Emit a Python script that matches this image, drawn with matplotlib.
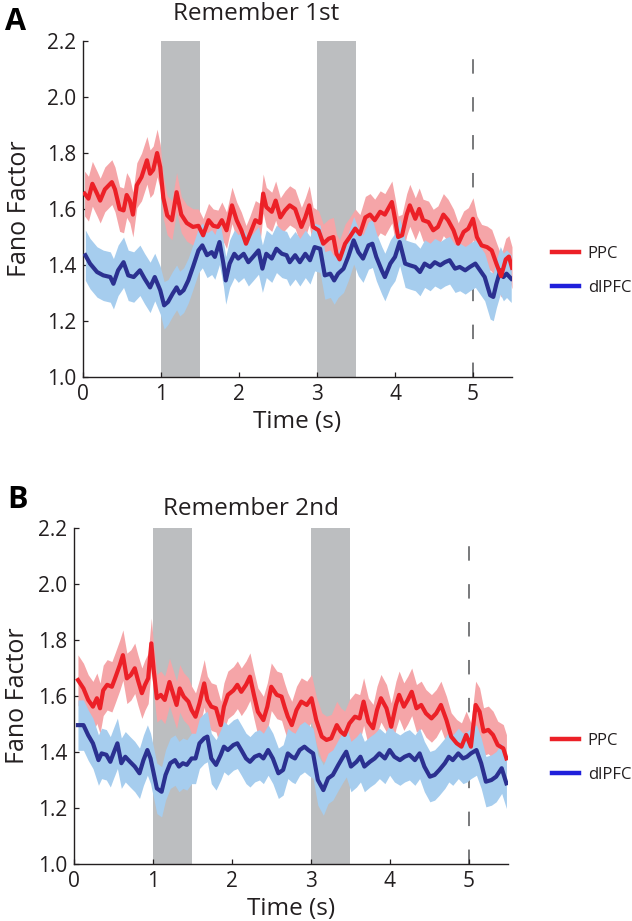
import numpy as np
import matplotlib
matplotlib.use("Agg")
import matplotlib.pyplot as plt
from matplotlib.lines import Line2D

plt.rcParams['font.family'] = ['Open Sans', 'DejaVu Sans']

# cue windows (s) and the end-of-trial marker
CUE_WINDOWS = [(1.0, 1.5), (3.0, 3.5)]
DELAY_END = 5.0

# ---- Panel A: Remember 1st ----
a_ppc_t = [0.02, 0.07, 0.12, 0.18, 0.22, 0.28, 0.37, 0.41, 0.47, 0.52,
           0.56, 0.60, 0.64, 0.69, 0.75, 0.82, 0.86, 0.90, 0.95, 0.99,
           1.03, 1.08, 1.14, 1.20, 1.26, 1.33, 1.41, 1.48, 1.54, 1.61,
           1.67, 1.73, 1.78, 1.84, 1.91, 1.97, 2.03, 2.09, 2.14, 2.21,
           2.27, 2.31, 2.35, 2.42, 2.47, 2.53, 2.59, 2.65, 2.72, 2.80,
           2.85, 2.90, 2.95, 3.02, 3.08, 3.15, 3.21, 3.25, 3.29, 3.36,
           3.42, 3.49, 3.55, 3.62, 3.68, 3.74, 3.81, 3.87, 3.96, 4.00,
           4.04, 4.09, 4.15, 4.19, 4.26, 4.31, 4.36, 4.43, 4.49, 4.55,
           4.62, 4.68, 4.75, 4.81, 4.88, 4.94, 5.00, 5.05, 5.11, 5.18,
           5.24, 5.30, 5.36, 5.42, 5.46, 5.50]
a_ppc = [1.655, 1.637, 1.690, 1.655, 1.630, 1.670, 1.696, 1.670, 1.600, 1.595,
         1.650, 1.630, 1.580, 1.685, 1.714, 1.774, 1.726, 1.740, 1.800, 1.750,
         1.640, 1.577, 1.560, 1.660, 1.580, 1.550, 1.536, 1.540, 1.506, 1.560,
         1.540, 1.536, 1.560, 1.524, 1.613, 1.560, 1.524, 1.476, 1.510, 1.560,
         1.550, 1.655, 1.607, 1.590, 1.630, 1.570, 1.595, 1.613, 1.600, 1.536,
         1.570, 1.613, 1.536, 1.524, 1.476, 1.494, 1.500, 1.440, 1.420, 1.476,
         1.500, 1.530, 1.510, 1.570, 1.580, 1.560, 1.590, 1.580, 1.625, 1.565,
         1.500, 1.506, 1.580, 1.613, 1.565, 1.600, 1.560, 1.553, 1.524, 1.536,
         1.580, 1.560, 1.524, 1.476, 1.518, 1.530, 1.565, 1.500, 1.470, 1.464,
         1.452, 1.405, 1.360, 1.420, 1.430, 1.390]
a_ppc_sem = [0.08, 0.08, 0.08, 0.08, 0.08, 0.08, 0.08, 0.08, 0.08, 0.08,
             0.08, 0.08, 0.08, 0.08, 0.085, 0.085, 0.085, 0.085, 0.085, 0.08,
             0.075, 0.07, 0.07, 0.07, 0.065, 0.065, 0.065, 0.06, 0.06, 0.06,
             0.06, 0.06, 0.065, 0.065, 0.065, 0.065, 0.065, 0.065, 0.065, 0.07,
             0.07, 0.07, 0.07, 0.07, 0.07, 0.07, 0.07, 0.07, 0.07, 0.07,
             0.07, 0.07, 0.07, 0.07, 0.07, 0.07, 0.07, 0.07, 0.07, 0.07,
             0.07, 0.07, 0.07, 0.075, 0.075, 0.075, 0.075, 0.075, 0.075, 0.075,
             0.075, 0.075, 0.075, 0.075, 0.075, 0.075, 0.075, 0.075, 0.075, 0.075,
             0.075, 0.075, 0.075, 0.075, 0.075, 0.075, 0.075, 0.075, 0.075, 0.075,
             0.075, 0.075, 0.075, 0.075, 0.075, 0.075]

a_pfc_t = [0.03, 0.09, 0.18, 0.26, 0.35, 0.39, 0.45, 0.52, 0.58, 0.65,
           0.73, 0.79, 0.86, 0.92, 0.99, 1.04, 1.09, 1.15, 1.20, 1.24,
           1.29, 1.35, 1.41, 1.48, 1.53, 1.59, 1.65, 1.69, 1.75, 1.80,
           1.83, 1.88, 1.94, 1.99, 2.06, 2.12, 2.18, 2.25, 2.30, 2.35,
           2.42, 2.48, 2.55, 2.61, 2.65, 2.72, 2.78, 2.85, 2.91, 2.97,
           3.04, 3.10, 3.17, 3.22, 3.27, 3.34, 3.40, 3.47, 3.53, 3.59,
           3.66, 3.71, 3.76, 3.83, 3.87, 3.94, 4.00, 4.06, 4.13, 4.19,
           4.26, 4.32, 4.38, 4.45, 4.51, 4.58, 4.64, 4.70, 4.77, 4.83,
           4.90, 4.96, 5.03, 5.09, 5.15, 5.22, 5.26, 5.30, 5.35, 5.39,
           5.43, 5.49]
a_pfc = [1.435, 1.405, 1.375, 1.363, 1.357, 1.333, 1.381, 1.410, 1.363, 1.357,
         1.381, 1.351, 1.320, 1.357, 1.310, 1.256, 1.268, 1.298, 1.320, 1.298,
         1.310, 1.345, 1.393, 1.452, 1.470, 1.435, 1.446, 1.429, 1.482, 1.405,
         1.345, 1.405, 1.440, 1.423, 1.440, 1.410, 1.429, 1.452, 1.387, 1.440,
         1.423, 1.458, 1.440, 1.435, 1.410, 1.435, 1.410, 1.440, 1.417, 1.464,
         1.458, 1.363, 1.369, 1.345, 1.369, 1.387, 1.429, 1.488, 1.446, 1.423,
         1.470, 1.476, 1.429, 1.381, 1.357, 1.405, 1.429, 1.482, 1.405, 1.399,
         1.393, 1.375, 1.405, 1.393, 1.410, 1.399, 1.410, 1.417, 1.387, 1.393,
         1.381, 1.393, 1.405, 1.381, 1.357, 1.292, 1.286, 1.333, 1.381, 1.357,
         1.369, 1.351]
a_pfc_sem = [0.09, 0.09, 0.09, 0.09, 0.09, 0.09, 0.09, 0.09, 0.09, 0.09,
             0.09, 0.09, 0.09, 0.085, 0.085, 0.085, 0.08, 0.08, 0.08, 0.08,
             0.08, 0.08, 0.08, 0.08, 0.08, 0.08, 0.08, 0.08, 0.08, 0.08,
             0.085, 0.085, 0.085, 0.085, 0.085, 0.085, 0.085, 0.085, 0.085, 0.085,
             0.085, 0.085, 0.085, 0.085, 0.085, 0.085, 0.085, 0.085, 0.085, 0.085,
             0.085, 0.085, 0.085, 0.085, 0.085, 0.085, 0.085, 0.085, 0.085, 0.085,
             0.085, 0.085, 0.085, 0.085, 0.085, 0.085, 0.085, 0.085, 0.085, 0.085,
             0.085, 0.085, 0.085, 0.085, 0.085, 0.085, 0.085, 0.085, 0.085, 0.085,
             0.085, 0.085, 0.085, 0.085, 0.085, 0.085, 0.085, 0.085, 0.085, 0.085,
             0.085, 0.085]

# ---- Panel B: Remember 2nd ----
b_ppc_t = [0.05, 0.12, 0.18, 0.24, 0.29, 0.33, 0.37, 0.42, 0.48, 0.52,
           0.58, 0.62, 0.67, 0.72, 0.77, 0.81, 0.86, 0.90, 0.94, 0.98,
           1.01, 1.05, 1.10, 1.15, 1.21, 1.26, 1.30, 1.34, 1.39, 1.45,
           1.49, 1.54, 1.59, 1.65, 1.69, 1.74, 1.80, 1.86, 1.90, 1.95,
           2.02, 2.07, 2.12, 2.18, 2.23, 2.28, 2.33, 2.40, 2.45, 2.50,
           2.57, 2.63, 2.67, 2.71, 2.76, 2.82, 2.88, 2.95, 3.01, 3.07,
           3.14, 3.20, 3.26, 3.33, 3.38, 3.43, 3.49, 3.56, 3.62, 3.67,
           3.73, 3.79, 3.84, 3.89, 3.96, 4.02, 4.08, 4.12, 4.18, 4.23,
           4.28, 4.34, 4.40, 4.46, 4.53, 4.59, 4.65, 4.72, 4.78, 4.85,
           4.91, 4.97, 5.03, 5.09, 5.14, 5.19, 5.25, 5.31, 5.37, 5.44,
           5.48]
b_ppc = [1.657, 1.627, 1.586, 1.562, 1.592, 1.556, 1.620, 1.640, 1.633, 1.663,
         1.710, 1.746, 1.663, 1.675, 1.699, 1.657, 1.610, 1.640, 1.663, 1.788,
         1.693, 1.592, 1.604, 1.586, 1.650, 1.604, 1.568, 1.627, 1.598, 1.580,
         1.550, 1.526, 1.574, 1.645, 1.586, 1.562, 1.556, 1.496, 1.562, 1.604,
         1.620, 1.640, 1.615, 1.640, 1.669, 1.604, 1.544, 1.514, 1.562, 1.633,
         1.604, 1.598, 1.560, 1.526, 1.496, 1.550, 1.580, 1.568, 1.592, 1.514,
         1.455, 1.443, 1.449, 1.496, 1.473, 1.461, 1.502, 1.526, 1.520, 1.580,
         1.508, 1.485, 1.550, 1.592, 1.556, 1.490, 1.568, 1.604, 1.562, 1.586,
         1.615, 1.556, 1.568, 1.538, 1.520, 1.538, 1.568, 1.514, 1.455, 1.431,
         1.419, 1.461, 1.419, 1.568, 1.544, 1.473, 1.479, 1.461, 1.425, 1.413,
         1.377]
b_ppc_sem = [0.09, 0.09, 0.09, 0.09, 0.09, 0.09, 0.09, 0.09, 0.09, 0.09,
             0.09, 0.09, 0.09, 0.09, 0.09, 0.09, 0.09, 0.09, 0.09, 0.09,
             0.085, 0.085, 0.085, 0.085, 0.085, 0.085, 0.085, 0.085, 0.085, 0.085,
             0.085, 0.085, 0.085, 0.085, 0.085, 0.085, 0.085, 0.085, 0.085, 0.085,
             0.085, 0.085, 0.085, 0.085, 0.085, 0.085, 0.085, 0.085, 0.085, 0.085,
             0.085, 0.085, 0.085, 0.085, 0.085, 0.085, 0.085, 0.085, 0.085, 0.085,
             0.085, 0.085, 0.085, 0.085, 0.085, 0.085, 0.085, 0.085, 0.085, 0.085,
             0.085, 0.085, 0.085, 0.085, 0.085, 0.085, 0.085, 0.085, 0.085, 0.085,
             0.085, 0.085, 0.085, 0.085, 0.085, 0.085, 0.085, 0.085, 0.085, 0.085,
             0.085, 0.085, 0.085, 0.085, 0.085, 0.085, 0.085, 0.085, 0.085, 0.085,
             0.085]

b_pfc_t = [0.05, 0.12, 0.18, 0.24, 0.31, 0.35, 0.41, 0.46, 0.50, 0.55,
           0.60, 0.65, 0.71, 0.77, 0.83, 0.88, 0.93, 0.97, 1.01, 1.05,
           1.11, 1.16, 1.22, 1.28, 1.33, 1.38, 1.43, 1.49, 1.54, 1.59,
           1.65, 1.69, 1.74, 1.80, 1.86, 1.90, 1.95, 2.02, 2.07, 2.12,
           2.18, 2.23, 2.29, 2.35, 2.40, 2.46, 2.52, 2.59, 2.65, 2.71,
           2.76, 2.80, 2.86, 2.92, 2.97, 3.03, 3.09, 3.16, 3.22, 3.28,
           3.35, 3.41, 3.45, 3.51, 3.58, 3.63, 3.68, 3.75, 3.81, 3.87,
           3.94, 4.00, 4.06, 4.13, 4.19, 4.25, 4.32, 4.38, 4.44, 4.51,
           4.57, 4.63, 4.70, 4.75, 4.80, 4.87, 4.93, 4.98, 5.03, 5.10,
           5.16, 5.22, 5.29, 5.35, 5.42, 5.48]
b_pfc = [1.496, 1.496, 1.460, 1.431, 1.371, 1.395, 1.390, 1.365, 1.395, 1.431,
         1.360, 1.383, 1.365, 1.348, 1.324, 1.371, 1.407, 1.377, 1.324, 1.270,
         1.258, 1.318, 1.360, 1.371, 1.348, 1.360, 1.354, 1.377, 1.377, 1.431,
         1.449, 1.455, 1.377, 1.354, 1.390, 1.419, 1.407, 1.425, 1.431, 1.407,
         1.377, 1.365, 1.383, 1.390, 1.377, 1.407, 1.377, 1.324, 1.336, 1.395,
         1.383, 1.377, 1.407, 1.419, 1.407, 1.395, 1.300, 1.264, 1.306, 1.318,
         1.354, 1.383, 1.401, 1.348, 1.365, 1.383, 1.348, 1.365, 1.377, 1.395,
         1.377, 1.407, 1.383, 1.371, 1.383, 1.390, 1.371, 1.395, 1.348, 1.312,
         1.318, 1.336, 1.360, 1.383, 1.371, 1.395, 1.377, 1.383, 1.395, 1.407,
         1.360, 1.294, 1.300, 1.312, 1.342, 1.288]
b_pfc_sem = [0.09, 0.09, 0.09, 0.09, 0.09, 0.09, 0.09, 0.09, 0.09, 0.09,
             0.09, 0.09, 0.09, 0.09, 0.09, 0.09, 0.09, 0.09, 0.09, 0.09,
             0.09, 0.09, 0.09, 0.09, 0.09, 0.09, 0.09, 0.09, 0.09, 0.09,
             0.09, 0.09, 0.09, 0.09, 0.09, 0.09, 0.09, 0.09, 0.09, 0.09,
             0.09, 0.09, 0.09, 0.09, 0.09, 0.09, 0.09, 0.09, 0.09, 0.09,
             0.09, 0.09, 0.09, 0.09, 0.09, 0.09, 0.09, 0.09, 0.09, 0.09,
             0.09, 0.09, 0.09, 0.09, 0.09, 0.09, 0.09, 0.09, 0.09, 0.09,
             0.09, 0.09, 0.09, 0.09, 0.09, 0.09, 0.09, 0.09, 0.09, 0.09,
             0.09, 0.09, 0.09, 0.09, 0.09, 0.09, 0.09, 0.09, 0.09, 0.09,
             0.09, 0.09, 0.09, 0.09, 0.09, 0.09]

RED, PINK = "#ec2027", "#f5a5a8"
NAVY, SKY = "#2b3090", "#a6cdee"
LEG_BLUE = "#1f1fdb"
TXT = "#231f20"

W, H = 632, 921
fig = plt.figure(figsize=(W / 100, H / 100), dpi=100)
axA = fig.add_axes([83 / W, 1 - 377 / H, 429 / W, 336 / H])
axB = fig.add_axes([74 / W, 1 - 864 / H, 434 / W, 336 / H])


def band(ax, t, m, s, fc):
    t, m, s = np.asarray(t), np.asarray(m), np.asarray(s)
    ax.fill_between(t, m - s, m + s, color=fc, lw=0, zorder=2)


def draw_panel(ax, ppc_t, ppc, ppc_sem, pfc_t, pfc, pfc_sem, ylab_x, leg_x):
    for lo, hi in CUE_WINDOWS:
        ax.axvspan(lo, hi, color="#bcbec0", lw=0, zorder=0)
    ax.axvline(DELAY_END, color="#6d6e71", lw=1.3, dashes=(8, 13), zorder=1)

    band(ax, ppc_t, ppc, ppc_sem, PINK)
    band(ax, pfc_t, pfc, pfc_sem, SKY)
    ax.plot(pfc_t, pfc, color=NAVY, lw=3.0, zorder=3)
    ax.plot(ppc_t, ppc, color=RED, lw=3.0, zorder=4)

    ax.set_xlim(0, 5.5)
    ax.set_ylim(1.0, 2.2)
    ax.set_xticks([0, 1, 2, 3, 4, 5])
    ax.set_yticks(np.arange(1.0, 2.21, 0.2))
    ax.set_yticklabels(["%.1f" % v for v in np.arange(1.0, 2.21, 0.2)])
    ax.tick_params(direction="in", length=3.6, width=0.9, labelsize=15,
                   colors=TXT, pad=5)
    for side in ("top", "right"):
        ax.spines[side].set_visible(False)
    for side in ("left", "bottom"):
        ax.spines[side].set_linewidth(1.0)
        ax.spines[side].set_color(TXT)

    ax.text(0.5, -0.152, "Time (s)", transform=ax.transAxes, ha="center",
            va="baseline", fontsize=17.5, color=TXT)
    ax.text(ylab_x, 0.5, "Fano Factor", transform=ax.transAxes, rotation=90,
            ha="center", va="center", fontsize=18, color=TXT)

    handles = [Line2D([0], [0], color=RED, lw=3.2),
               Line2D([0], [0], color=LEG_BLUE, lw=3.2)]
    ax.legend(handles, ["PPC", "dlPFC"], loc="center left",
              bbox_to_anchor=(leg_x, 0.316), frameon=False, fontsize=12,
              handlelength=1.6, handletextpad=0.55, labelspacing=1.05,
              borderpad=0, borderaxespad=0, labelcolor=TXT)


draw_panel(axA, a_ppc_t, a_ppc, a_ppc_sem, a_pfc_t, a_pfc, a_pfc_sem,
           -0.148, 1.093)
draw_panel(axB, b_ppc_t, b_ppc, b_ppc_sem, b_pfc_t, b_pfc, b_pfc_sem,
           -0.13, 1.101)

fig.text(256 / W, 1 - 20 / H, "Remember 1st", ha="center", va="baseline",
         fontsize=17.5, color=TXT)
fig.text(251 / W, 1 - 515 / H, "Remember 2nd", ha="center", va="baseline",
         fontsize=17.5, color=TXT)
fig.text(5 / W, 1 - 30 / H, "A", ha="left", va="baseline", fontsize=22,
         fontweight="bold", color="black")
fig.text(7 / W, 1 - 508 / H, "B", ha="left", va="baseline", fontsize=22,
         fontweight="bold", color="black")

fig.savefig("out.png", dpi=100)
